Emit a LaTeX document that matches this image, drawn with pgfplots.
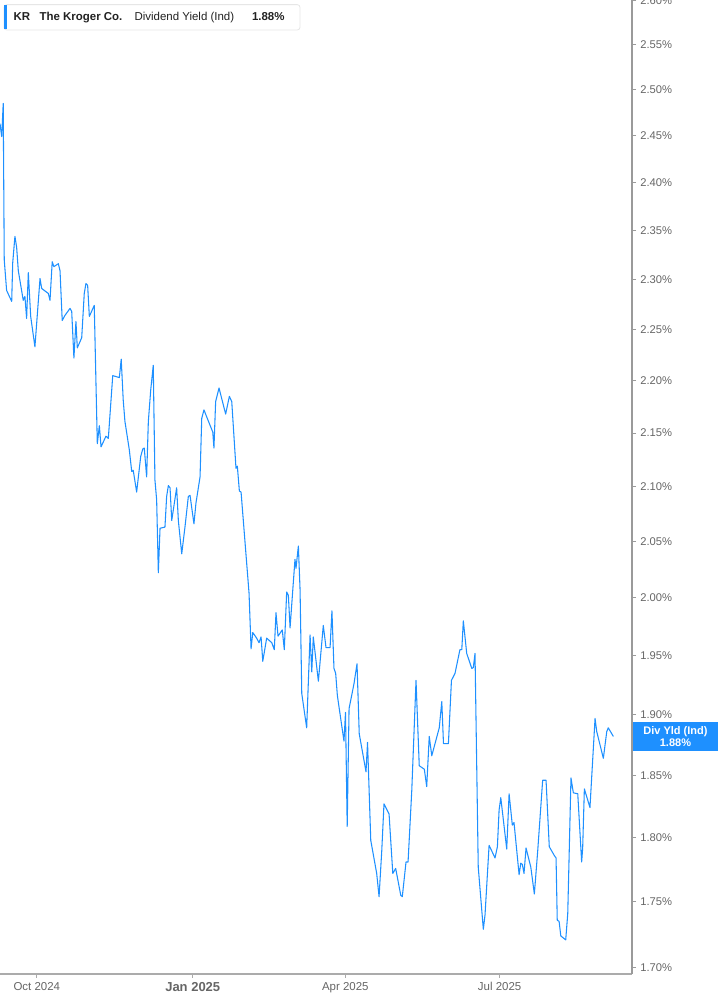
\documentclass[border=0pt]{standalone}
\usepackage{fontspec}
\setmainfont{Liberation Sans}
\usepackage{pgfplots}
\usepackage{pgfplotstable}
\pgfplotsset{compat=1.18}
\definecolor{kblue}{HTML}{1E90FF}
\definecolor{axgray}{HTML}{ABABAB}
\definecolor{yaxgray}{HTML}{9A9A9A}
\definecolor{lblgray}{HTML}{666666}
\definecolor{boxgray}{HTML}{E6E6E6}
\definecolor{ttl}{HTML}{222222}

% days since 2024-10-01, dividend yield in percent
\pgfplotstableread{
d y
-21.7 2.463
-20.7 2.449
-19.8 2.485
-19.2 2.320
-17.8 2.289
-14.8 2.278
-14.2 2.317
-12.9 2.344
-11.9 2.333
-10.9 2.309
-8.0 2.279
-7.0 2.283
-6.0 2.261
-5.0 2.307
-3.6 2.263
-1.1 2.233
1.9 2.301
2.9 2.291
6.8 2.286
7.8 2.279
9.1 2.318
10.1 2.313
12.7 2.316
13.7 2.309
15.0 2.259
16.6 2.264
19.6 2.271
20.6 2.268
21.9 2.222
23.1 2.258
23.9 2.232
26.5 2.242
28.0 2.286
29.0 2.296
30.0 2.294
31.0 2.263
33.9 2.274
35.7 2.140
36.9 2.157
37.9 2.137
40.8 2.147
42.2 2.145
44.8 2.205
48.7 2.203
49.8 2.221
51.0 2.181
52.0 2.161
54.6 2.134
56.0 2.114
56.9 2.115
58.9 2.095
61.3 2.128
62.5 2.135
63.4 2.136
64.8 2.109
65.8 2.161
67.2 2.191
68.7 2.215
69.7 2.106
70.7 2.088
71.7 2.022
72.7 2.062
75.6 2.063
76.6 2.091
77.6 2.101
78.6 2.099
79.6 2.069
82.5 2.099
83.5 2.069
85.5 2.039
87.4 2.063
89.4 2.091
90.4 2.092
92.7 2.066
93.9 2.085
96.3 2.109
97.3 2.164
98.6 2.172
103.8 2.151
104.5 2.136
105.5 2.180
107.5 2.193
111.4 2.168
113.6 2.185
115.0 2.180
117.5 2.117
118.3 2.119
119.5 2.096
120.5 2.095
125.2 2.004
126.4 1.956
127.4 1.970
129.7 1.965
131.1 1.961
132.3 1.966
133.3 1.945
135.6 1.965
138.6 1.961
140.1 1.955
141.1 1.987
142.3 1.967
144.8 1.972
146.0 1.955
147.4 2.005
148.4 2.002
149.4 1.974
152.3 2.034
152.9 2.026
154.3 2.046
155.3 2.007
156.3 1.918
159.2 1.889
161.2 1.968
162.2 1.936
163.1 1.966
166.1 1.928
169.0 1.976
170.6 1.957
173.0 1.957
174.1 1.989
175.3 1.939
176.3 1.935
177.3 1.916
181.2 1.878
182.1 1.902
183.1 1.809
184.2 1.905
187.1 1.926
188.9 1.943
190.2 1.884
194.2 1.853
195.1 1.877
197.0 1.798
200.5 1.772
201.9 1.754
203.5 1.790
204.8 1.827
207.8 1.819
210.0 1.772
211.7 1.776
214.7 1.755
215.6 1.754
217.8 1.781
219.0 1.781
221.2 1.838
223.7 1.929
225.6 1.858
228.6 1.855
230.0 1.841
231.5 1.882
233.0 1.866
237.4 1.889
238.9 1.911
239.9 1.876
242.8 1.876
244.6 1.929
246.7 1.935
249.6 1.955
250.7 1.955
251.6 1.980
253.6 1.952
256.6 1.939
257.5 1.940
258.5 1.952
260.4 1.777
263.4 1.729
264.4 1.740
266.8 1.794
270.3 1.784
271.7 1.793
272.7 1.822
273.7 1.832
277.2 1.791
278.6 1.835
280.5 1.810
281.5 1.812
284.5 1.771
285.5 1.780
286.4 1.779
287.4 1.772
288.6 1.792
291.4 1.777
293.5 1.756
295.5 1.790
298.4 1.846
300.4 1.846
302.3 1.793
305.3 1.786
306.3 1.784
307.0 1.736
308.1 1.735
309.1 1.724
312.0 1.721
313.2 1.741
315.1 1.848
316.5 1.836
319.1 1.835
321.4 1.781
322.0 1.792
323.0 1.839
326.3 1.824
329.3 1.897
330.3 1.886
334.2 1.864
336.2 1.886
337.1 1.889
340.1 1.882
}\krdiv

\begin{document}
\begin{tikzpicture}
\useasboundingbox (0,-23.25pt) rectangle (537.75pt,730.5pt);
\begin{axis}[
  at={(0,0)}, anchor=south west,
  scale only axis, width=474pt, height=730.5pt,
  xmin=-21.7, xmax=351.1,
  ymode=log, ymin=1.6955, ymax=2.6005,
  axis x line*=bottom, axis y line*=right,
  x axis line style={-, draw=axgray, line width=1.5pt},
  y axis line style={-, draw=yaxgray, line width=1.1pt},
  xminorticks=false, yminorticks=false,
  tick align=outside,
  major tick length=3pt,
  xtick={0,92,182,273},
  xticklabels={Oct 2024,{\fontsize{9.75pt}{10pt}\selectfont\bfseries Jan 2025},Apr 2025,Jul 2025},
  ytick={1.70,1.75,1.80,1.85,1.90,1.95,2.00,2.05,2.10,2.15,2.20,2.25,2.30,2.35,2.40,2.45,2.50,2.55,2.60},
  yticklabels={1.70\%,1.75\%,1.80\%,1.85\%,1.90\%,1.95\%,2.00\%,2.05\%,2.10\%,2.15\%,2.20\%,2.25\%,2.30\%,2.35\%,2.40\%,2.45\%,2.50\%,2.55\%,2.60\%},
  x tick style={draw=axgray, line width=0.75pt},
  y tick style={draw=yaxgray, line width=0.75pt},
  xticklabel style={font=\fontsize{8.6pt}{9pt}\selectfont, text=lblgray, inner sep=0pt, anchor=north, yshift=-3pt},
  yticklabel style={font=\fontsize{8.4pt}{9pt}\selectfont, text=lblgray, inner sep=0pt, anchor=west, xshift=3pt},
]
\addplot[kblue, line width=0.8pt, line join=round, no marks] table[x=d, y=y] {\krdiv};
\coordinate (lastv) at (axis cs:351.1,1.882);
\end{axis}
% current value label on the right axis
\node[fill=kblue, text=white, anchor=west, inner sep=0pt, minimum width=63.75pt,
      minimum height=21.5pt, align=center,
      font=\fontsize{8.25pt}{8.9pt}\selectfont\bfseries] at ([xshift=0.5pt]lastv) {Div Yld (Ind)\\1.88\%};
% title box
\draw[draw=boxgray, fill=white, rounded corners=2pt, line width=0.6pt] (3pt,708pt) rectangle (225pt,727pt);
\fill[kblue] (3pt,708.6pt) rectangle (5.4pt,726.4pt);
\begin{scope}[every node/.style={anchor=base west, inner sep=0pt, text=ttl, font=\fontsize{8.6pt}{9pt}\selectfont}]
\node at (10pt,715pt) {\bfseries KR};
\node at (29.5pt,715pt) {\bfseries The Kroger Co.};
\node at (100.7pt,715pt) {Dividend Yield (Ind)};
\node at (188.8pt,715pt) {\bfseries 1.88\%};
\end{scope}
\end{tikzpicture}
\end{document}
